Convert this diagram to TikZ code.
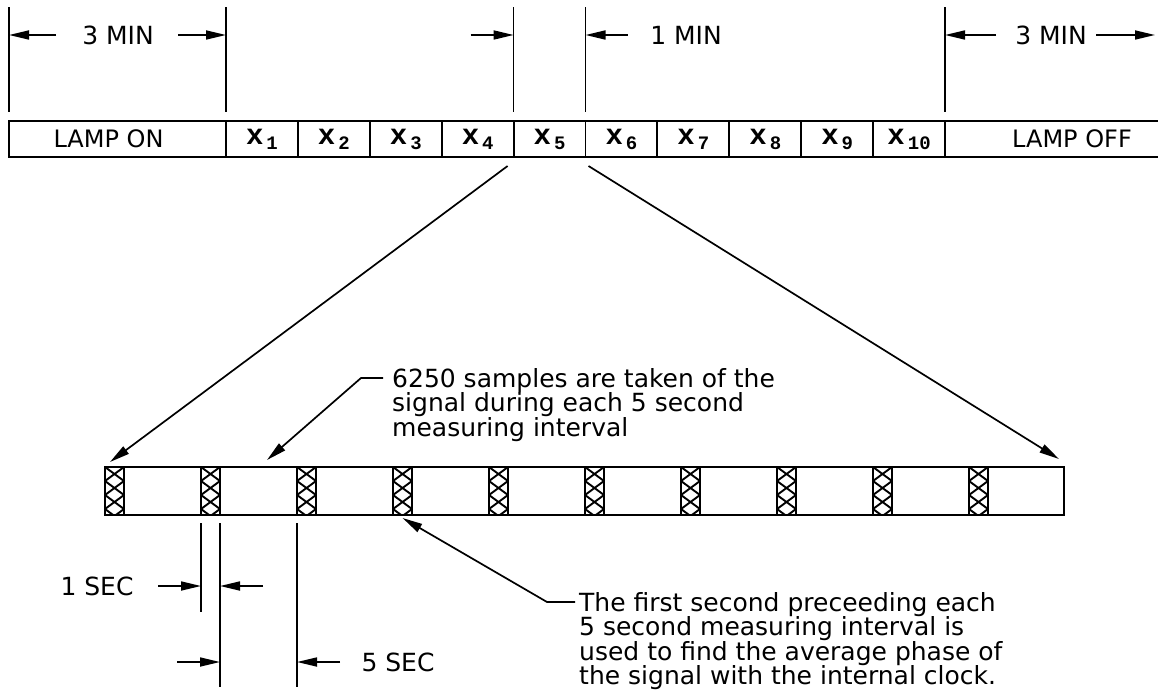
\documentclass[tikz,border=0pt]{standalone}
\usepackage{fontspec}
\setmainfont{DejaVu Sans}
\newfontfamily\cellfont{Liberation Mono}
\usepackage{tikz}
\usetikzlibrary{arrows.meta}
\newcommand{\xsub}[1]{{\cellfont\bfseries\fontsize{29}{29}\selectfont x}\hspace{3pt}\raisebox{-5pt}{\cellfont\bfseries\fontsize{19}{19}\selectfont #1}}

\begin{document}
\begin{tikzpicture}[x=1pt, y=-1pt,
          cell/.style={draw, line width=1.9pt, minimum height=36pt, inner sep=0pt,
                       outer sep=0pt, font=\fontsize{24}{24}\selectfont},
          lbl/.style={font=\fontsize{25}{25}\selectfont, inner sep=0pt},
          note/.style={font=\fontsize{25}{24.5}\selectfont, align=left,
                       inner sep=0pt, anchor=north west},
          ext/.style={line width=1.7pt},
          arr/.style={-{Triangle[length=20pt,width=9pt]}, line width=1.7pt},
          hatch/.style={draw, line width=2.8pt, minimum width=19pt, minimum height=48pt,
                        inner sep=0pt, outer sep=0pt, fill=white,
                        path picture={
                          \foreach \k in {-1,...,4}{
                            \draw[line width=1.9pt] ([yshift={-14pt*(\k)}]path picture bounding box.north west) -- ++(19,14);
                            \draw[line width=1.9pt] ([yshift={-14pt*(\k+1)}]path picture bounding box.north west) -- ++(19,-14);
                          }}}
        ]
        \useasboundingbox (0,0) rectangle (1158,698);

        % upper strip
        \node[cell, minimum width=217pt] (lampon) at (117.5,139) {\hspace*{-18pt}LAMP ON};
        \foreach \i in {1,...,10}
          \node[cell, minimum width=71.9pt] (x\i) at ({226+71.9*(\i-0.5)},139) {\xsub{\i}};
        \node[cell, minimum width=254pt] (lampoff) at (1072,139) {LAMP OFF};

        \draw[ext] ([yshift=9pt]lampon.north west) -- ++(0,-105);
        \draw[ext] ([yshift=9pt]lampon.north east) -- ++(0,-105);
        \draw[ext] ([yshift=9pt]x4.north east) -- ++(0,-105);
        \draw[ext] ([yshift=9pt]x5.north east) -- ++(0,-105);
        \draw[ext] ([yshift=9pt]x10.north east) -- ++(0,-105);

        \node[lbl] (min3a) at (118,35) {3 MIN};
        \node[lbl] (min1)  at (686,35) {1 MIN};
        \node[lbl] (min3b) at (1051,35) {3 MIN};
        \coordinate (e0) at (lampon.north west |- min3a.center);
        \coordinate (e1) at (lampon.north east |- min3a.center);
        \coordinate (e2) at (x4.north east |- min3a.center);
        \coordinate (e3) at (x5.north east |- min1.center);
        \coordinate (e4) at (x10.north east |- min3b.center);
        \coordinate (e5) at (1155,35);
        \draw[arr] ([xshift=47pt]e0) -- (e0);
        \draw[arr] ([xshift=-48pt]e1) -- (e1);
        \draw[arr] ([xshift=-43pt]e2) -- (e2);
        \draw[arr] ([xshift=42pt]e3) -- (e3);
        \draw[arr] ([xshift=51pt]e4) -- (e4);
        \draw[arr] ([xshift=-59pt]e5) -- (e5);

        % lower strip, one second of every six hatched
        \node[draw, line width=2pt, minimum width=959pt, minimum height=48pt,
              inner sep=0pt, outer sep=0pt] (strip) at (584.5,491) {};
        \foreach \i in {1,...,10}
          \node[hatch] (h\i) at ({114.5+96*(\i-1)},491) {};

        \draw[arr] ([xshift=-6pt,yshift=-9pt]x5.south west) -- ([xshift=5pt,yshift=5pt]strip.north west);
        \draw[arr] ([xshift=3pt,yshift=-9pt]x5.south east) -- ([xshift=-5pt,yshift=8pt]strip.north east);

        % notes
        \node[note] (samples) at (392,368)
              {6250 samples are taken of the\\signal during each 5 second\\measuring interval};
        \draw[arr] ([xshift=-9pt,yshift=-10pt]samples.north west) -- ++(-22,0)
              -- ([xshift=162pt,yshift=7pt]strip.north west);
        \node[note] (firstsec) at (579,592)
              {The first second preceeding each\\5 second measuring interval is\\used to find the average phase of\\the signal with the internal clock.};
        \draw[arr] ([xshift=-4pt,yshift=-10pt]firstsec.north west) -- ++(-28,0)
              -- ([yshift=-3pt]h4.south);

        % second dimensions
        \draw[ext] ([yshift=-8pt]h2.south west) -- ++(0,89);
        \draw[ext] ([yshift=-8pt]h2.south east) -- ++(0,164);
        \draw[ext] ([yshift=-8pt]h3.south west) -- ++(0,164);
        \node[lbl] (sec1) at (97,586) {1 SEC};
        \node[lbl] (sec5) at (398,662) {5 SEC};
        \coordinate (s1) at (h2.south west |- sec1.center);
        \coordinate (s2) at (h2.south east |- sec1.center);
        \coordinate (s3) at (h2.south east |- sec5.center);
        \coordinate (s4) at (h3.south west |- sec5.center);
        \draw[arr] ([xshift=-43pt]s1) -- (s1);
        \draw[arr] ([xshift=43pt]s2) -- (s2);
        \draw[arr] ([xshift=-43pt]s3) -- (s3);
        \draw[arr] ([xshift=43pt]s4) -- (s4);
      \end{tikzpicture}
\end{document}
